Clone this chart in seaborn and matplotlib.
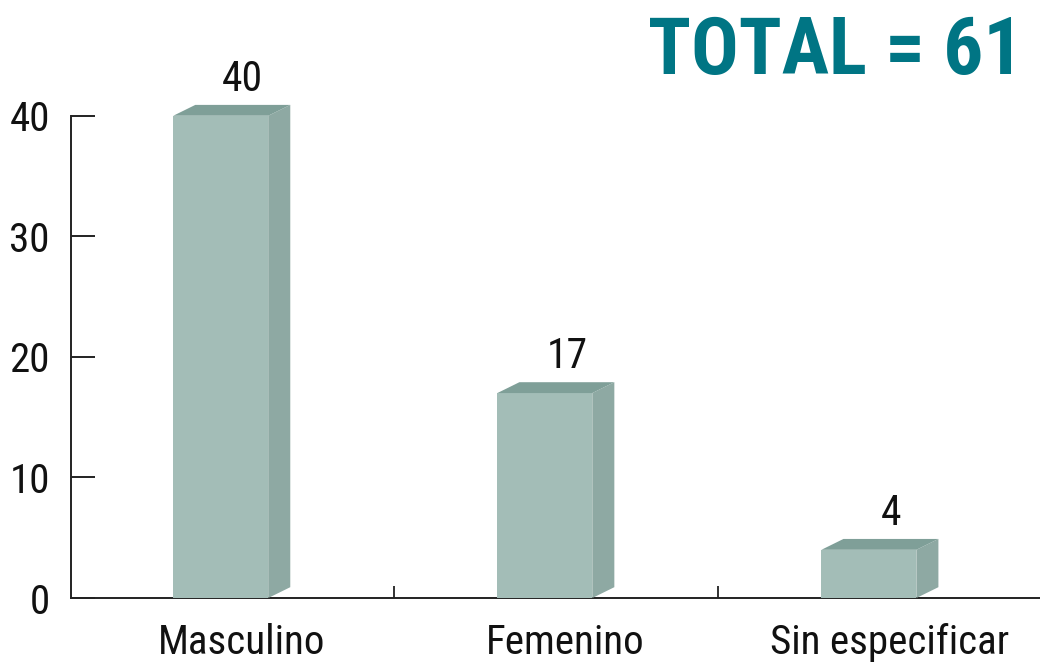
import matplotlib
matplotlib.use('Agg')
import matplotlib.pyplot as plt
from matplotlib.patches import Polygon
import seaborn as sns

# data
categories = ['Masculino', 'Femenino', 'Sin especificar']
values = [40, 17, 4]
total_label = 'TOTAL = 61'
y_ticks = [0, 10, 20, 30, 40]

front_col = '#a3bdb7'
side_col = '#8ea9a3'
top_col = '#7f9f98'
title_col = '#007584'

sns.set_style('white')
plt.rcParams['font.family'] = ['Roboto Condensed', 'DejaVu Sans']

fig = plt.figure(figsize=(10.4, 6.63), dpi=100)
ax = fig.add_axes([0.068, 0.098, 0.932, 0.902])

sns.barplot(x=categories, y=values, color=front_col, width=0.293,
            saturation=1, ax=ax, zorder=3, linewidth=0)

# 3D depth of the boxes
dx, dy = 0.068, 0.9
for p in ax.patches:
    x0, w, h = p.get_x(), p.get_width(), p.get_height()
    side = Polygon([(x0 + w, 0), (x0 + w + dx, dy), (x0 + w + dx, h + dy), (x0 + w, h)],
                   closed=True, facecolor=side_col, edgecolor='none', zorder=3)
    top = Polygon([(x0, h), (x0 + dx, h + dy), (x0 + w + dx, h + dy), (x0 + w, h)],
                  closed=True, facecolor=top_col, edgecolor='none', zorder=3)
    ax.add_patch(side)
    ax.add_patch(top)
    ax.annotate(f'{int(h)}', (x0 + w / 2 + dx, h + dy), xytext=(0, 10),
                textcoords='offset points', ha='center', va='baseline',
                fontsize=30, color='#111111')

ax.set_xlim(-0.463, 2.528)
ax.set_ylim(0, 49.6)

ax.set_yticks(y_ticks)
ax.tick_params(axis='y', left=True, direction='in', length=17, width=1.3, pad=15,
               labelsize=29.5, colors='#111111')
ax.set_xticks([i + dx / 2 + 0.03 for i in range(len(categories))])
ax.set_xticklabels(categories)
ax.tick_params(axis='x', which='major', bottom=True, length=0, pad=18, labelsize=29.5,
               colors='#111111')
ax.set_xticks([i + 0.5 + dx / 2 for i in range(len(categories) - 1)], minor=True)
ax.tick_params(axis='x', which='minor', bottom=True, direction='in', length=9, width=1.3,
               color='#222222')

for s in ['top', 'right']:
    ax.spines[s].set_visible(False)
ax.spines['left'].set_bounds(0, 40)
for s in ['left', 'bottom']:
    ax.spines[s].set_linewidth(1.4)
    ax.spines[s].set_color('#222222')
ax.set_xlabel('')
ax.set_ylabel('')

fig.text(0.984, 0.978, total_label, ha='right', va='top', fontsize=57,
         fontweight='bold', color=title_col)

fig.savefig('out.png', dpi=100)
